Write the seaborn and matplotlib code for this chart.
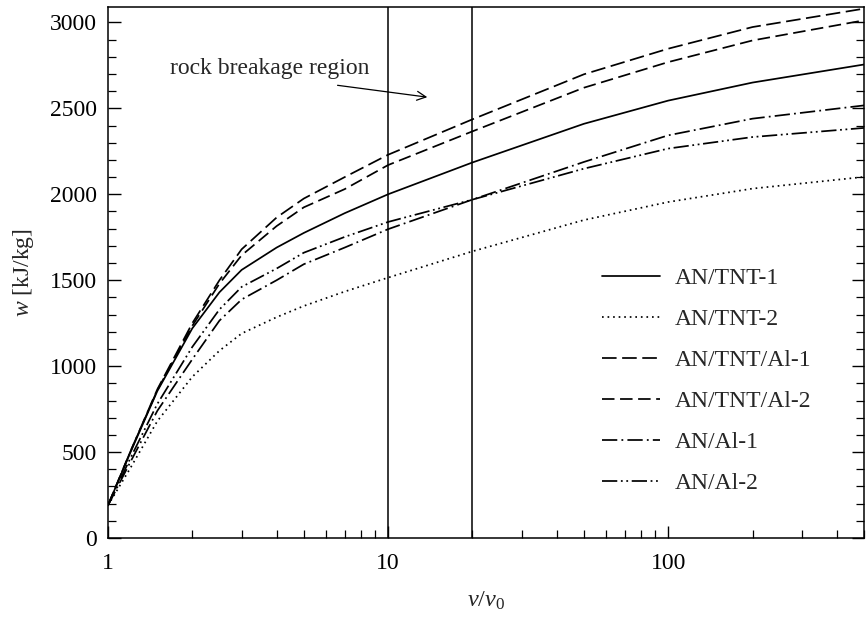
import numpy as np
import pandas as pd
import seaborn as sns
import matplotlib.pyplot as plt
from matplotlib.ticker import FixedLocator, FuncFormatter, MultipleLocator, NullFormatter

sns.set_theme(style="ticks")
plt.rcParams["font.family"] = ["Liberation Serif", "DejaVu Serif"]
plt.rcParams["mathtext.fontset"] = "custom"
plt.rcParams["mathtext.rm"] = "Liberation Serif"
plt.rcParams["mathtext.it"] = "Liberation Serif:italic"
plt.rcParams["lines.scale_dashes"] = False

# data (v/v0 vs w in kJ/kg)
ratio = [1, 1.2, 1.5, 2, 2.5, 3, 4, 5, 7, 10, 20, 50, 100, 200, 500]

an_tnt_1 = [190, 495, 855, 1220, 1430, 1560, 1690, 1775, 1890, 2000, 2185, 2410, 2545, 2650, 2755]
an_tnt_2 = [190, 405, 680, 938, 1090, 1190, 1285, 1350, 1434, 1515, 1668, 1850, 1955, 2033, 2101]
an_tnt_al_1 = [190, 500, 865, 1250, 1500, 1680, 1865, 1975, 2100, 2230, 2436, 2698, 2847, 2973, 3080]
an_tnt_al_2 = [190, 500, 860, 1235, 1480, 1645, 1815, 1924, 2030, 2170, 2366, 2620, 2769, 2895, 3012]
an_al_1 = [190, 440, 740, 1040, 1265, 1388, 1500, 1593, 1690, 1797, 1969, 2188, 2343, 2440, 2517]
an_al_2 = [190, 462, 780, 1112, 1330, 1461, 1568, 1660, 1752, 1839, 1969, 2149, 2266, 2333, 2386]

names = ["AN/TNT-1", "AN/TNT-2", "AN/TNT/Al-1", "AN/TNT/Al-2", "AN/Al-1", "AN/Al-2"]
series = [an_tnt_1, an_tnt_2, an_tnt_al_1, an_tnt_al_2, an_al_1, an_al_2]
styles = [
    "-",
    (0, (1.2, 2.8)),
    (0, (10.5, 4.0)),
    (0, (9.0, 4.0)),
    (0, (11.0, 3.0, 1.3, 3.0)),
    (0, (11.0, 2.6, 1.3, 2.6, 1.3, 2.6)),
]

region = [10, 20]

fig = plt.figure(figsize=(8.66, 6.30), dpi=100)
ax = fig.add_axes([0.1247, 0.146, 0.873, 0.843])

for name, vals, ls in zip(names, series, styles):
    df = pd.DataFrame({"ratio": ratio, "w": vals})
    sns.lineplot(data=df, x="ratio", y="w", ax=ax, color="black", lw=1.25,
                 linestyle=ls, label=name)

for xv in region:
    ax.axvline(xv, color="black", lw=1.1)

ax.set_xscale("log")
ax.set_xlim(1, 500)
ax.set_ylim(0, 3090)

ax.xaxis.set_major_locator(FixedLocator([1, 10, 100]))
ax.xaxis.set_major_formatter(FuncFormatter(lambda v, p: f"{v:g}"))
ax.xaxis.set_minor_formatter(NullFormatter())
ax.yaxis.set_major_locator(MultipleLocator(500))
ax.yaxis.set_minor_locator(MultipleLocator(100))

ax.tick_params(which="both", direction="in", labelsize=17, right=True, top=False,
               colors="black")
ax.tick_params(which="major", length=9, width=1.0, pad=11)
ax.tick_params(which="minor", length=5.5, width=0.9)
ax.tick_params(axis="y", which="major", pad=8)
for s in ax.spines.values():
    s.set_color("black")
    s.set_linewidth(1.1)

ax.set_xlabel(r"$v/v_0$", fontsize=17.5, labelpad=11)
ax.set_ylabel(r"$w$ [kJ/kg]", fontsize=17, labelpad=10)

ax.text(1.66, 2733, "rock breakage region", fontsize=17, ha="left", va="center")
ax.annotate("", xy=(13.8, 2565), xytext=(6.6, 2634),
            arrowprops=dict(arrowstyle="->", color="black", lw=0.9,
                            mutation_scale=16, shrinkA=0, shrinkB=0))

leg = ax.legend(loc="center left", bbox_to_anchor=(0.653, 0.296), frameon=False,
                fontsize=17, handlelength=2.45, handletextpad=0.64,
                labelspacing=0.82, borderpad=0, borderaxespad=0)

fig.savefig("out.png", dpi=100)
